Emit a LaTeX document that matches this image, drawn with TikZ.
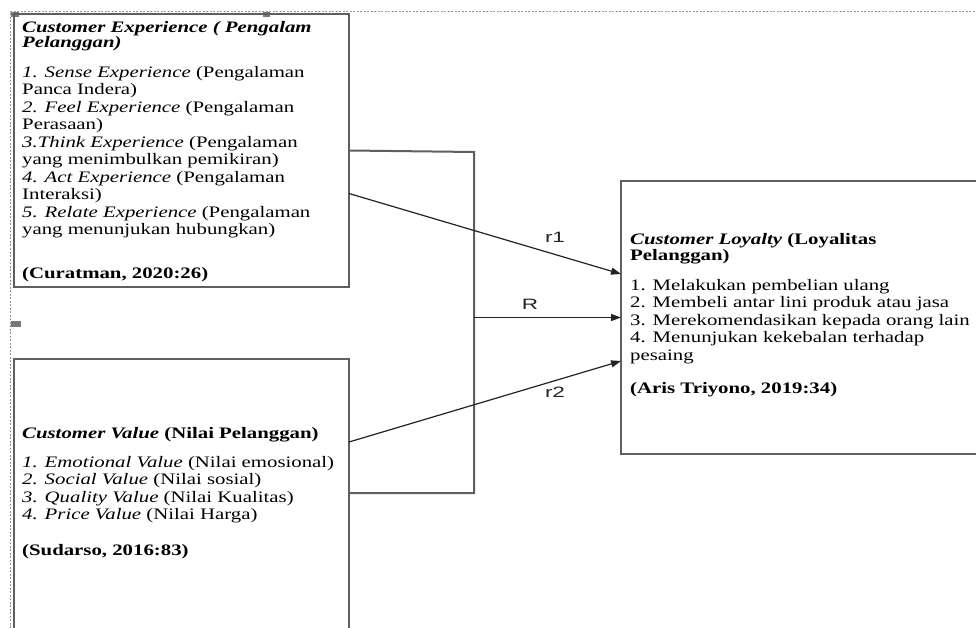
\documentclass[tikz,border=0pt]{standalone}
\usepackage{fontspec}
\setmainfont{Liberation Serif}[FakeStretch=1.3]
\newfontfamily\lblfont{Liberation Sans}[FakeStretch=1.5]
\usetikzlibrary{arrows.meta,calc}
\definecolor{boxgray}{RGB}{95,95,95}
\definecolor{linegray}{RGB}{35,35,35}
\definecolor{framegray}{RGB}{150,150,150}
\definecolor{handlegray}{RGB}{120,120,120}
\begin{document}
\begin{tikzpicture}[x=1pt,y=-1pt,
  box/.style={draw=boxgray, line width=2pt, inner sep=0pt, outer sep=0pt, anchor=north west},
  txt/.style={inner sep=0pt, anchor=north west, align=left, font=\fontsize{16}{17.5}\selectfont},
  bracket/.style={draw=boxgray, line width=2pt},
  conn/.style={draw=linegray, line width=1.2pt},
  arr/.style={conn, -{Triangle[length=10pt,width=7pt]}},
  lbl/.style={inner sep=0pt, text=linegray, font=\lblfont\fontsize{15}{17}\selectfont},
  frame/.style={draw=framegray, line width=1pt, dash pattern=on 2pt off 1.5pt},
  handle/.style={fill=handlegray, draw=none}]
\useasboundingbox (0,0) rectangle (976,628);
\clip (0,0) rectangle (976,628);
\fill[white] (0,0) rectangle (976,628);

% frame of the drawing canvas
\draw[frame] (10,628) -- (10,12) -- (976,12);
\fill[handle] (11,12) rectangle (19,17);
\fill[handle] (263,12) rectangle (270,17);
\fill[handle] (11,321) rectangle (21,327);

% boxes
\node[box, minimum width=335pt, minimum height=273pt] (ce) at (14,14) {};
\node[box, minimum width=335pt, minimum height=341pt] (cv) at (14,359) {};
\node[box, minimum width=400pt, minimum height=273pt] (cl) at (621,181) {};

% texts
\node[txt] (cet) at (22,19) {\rule{0pt}{13pt}\textbf{\textit{Customer Experience ( Pengalam}}\\[-2.5pt]
\textbf{\textit{Pelanggan)}}\\[12.5pt]
\textit{1. Sense Experience} (Pengalaman\\
Panca Indera)\\
\textit{2. Feel Experience} (Pengalaman\\
Perasaan)\\
\textit{3.Think Experience} (Pengalaman\\
yang menimbulkan pemikiran)\\
\textit{4. Act Experience} (Pengalaman\\
Interaksi)\\
\textit{5. Relate Experience} (Pengalaman\\
yang menunjukan hubungkan)\\[26pt]
\textbf{(Curatman, 2020:26)}};

\node[txt] (cvt) at (22,425) {\rule{0pt}{13pt}\textbf{\textit{Customer Value} (Nilai Pelanggan)}\\[11.5pt]
\textit{1. Emotional Value} (Nilai emosional)\\
\textit{2. Social Value} (Nilai sosial)\\
\textit{3. Quality Value} (Nilai Kualitas)\\
\textit{4. Price Value} (Nilai Harga)\\[18.5pt]
\textbf{(Sudarso, 2016:83)}};

\node[txt] (clt) at (630,231) {\rule{0pt}{13pt}\textbf{\textit{Customer Loyalty} (Loyalitas}\\[-1.5pt]
\textbf{Pelanggan)}\\[12.5pt]
1. Melakukan pembelian ulang\\
2. Membeli antar lini produk atau jasa\\
3. Merekomendasikan kepada orang lain\\
4. Menunjukan kekebalan terhadap\\
pesaing\\[15.5pt]
\textbf{(Aris Triyono, 2019:34)}};

% connectors
\coordinate (jt) at (474,152);
\coordinate (jb) at (474,493);
\draw[bracket] (ce.east) -- (jt) -- (jb) -- (jb -| cv.east);
\draw[arr] (jt |- cl.west) -- (cl.west);
\draw[arr] ([yshift=-43pt]ce.east) -- ([yshift=43.5pt]cl.west);
\draw[arr] ([yshift=87.5pt]cv.east) -- ([yshift=-43.5pt]cl.west);

% labels
\node[lbl] (lr1) at (555,237) {r1};
\node[lbl] (lR) at (530,304) {R};
\node[lbl] (lr2) at (555,392) {r2};
\end{tikzpicture}
\end{document}
